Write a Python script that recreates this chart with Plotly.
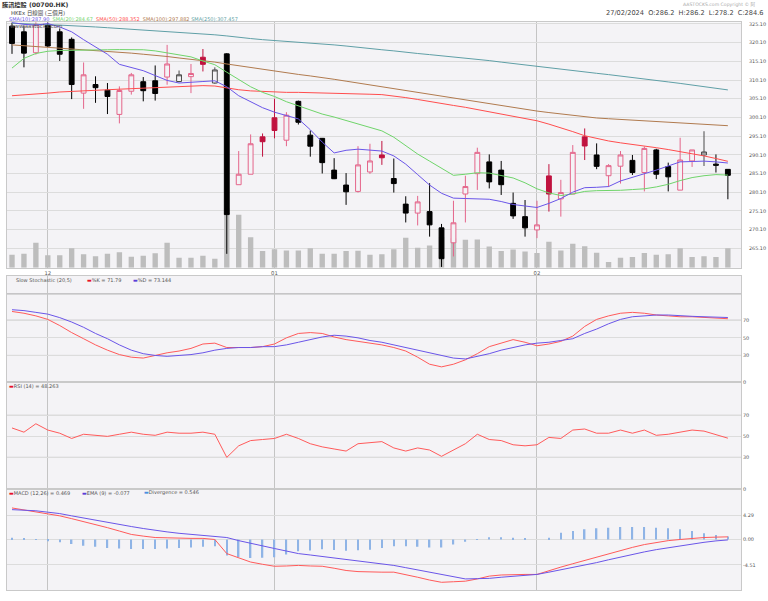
import plotly.graph_objects as go

# ---------------- data ----------------
dates = ["2023-11-28", "2023-11-29", "2023-11-30",
         "2023-12-01", "2023-12-04", "2023-12-05", "2023-12-06", "2023-12-07", "2023-12-08",
         "2023-12-11", "2023-12-12", "2023-12-13", "2023-12-14", "2023-12-15", "2023-12-18",
         "2023-12-19", "2023-12-20", "2023-12-21", "2023-12-22", "2023-12-27", "2023-12-28",
         "2023-12-29",
         "2024-01-02", "2024-01-03", "2024-01-04", "2024-01-05", "2024-01-08", "2024-01-09",
         "2024-01-10", "2024-01-11", "2024-01-12", "2024-01-15", "2024-01-16", "2024-01-17",
         "2024-01-18", "2024-01-19", "2024-01-22", "2024-01-23", "2024-01-24", "2024-01-25",
         "2024-01-26", "2024-01-29", "2024-01-30", "2024-01-31",
         "2024-02-01", "2024-02-02", "2024-02-05", "2024-02-06", "2024-02-07", "2024-02-08",
         "2024-02-09", "2024-02-14", "2024-02-15", "2024-02-16", "2024-02-19", "2024-02-20",
         "2024-02-21", "2024-02-22", "2024-02-23", "2024-02-26", "2024-02-27"]

opens = [324.5, 323.0, 317.4, 324.8, 323.0, 321.0, 306.6, 308.9, 307.4, 300.9,
         307.1, 309.65, 309.9, 310.9, 309.7, 311.0, 316.2, 309.3, 317.1, 282.1,
         284.9, 294.9, 300.0, 294.0, 304.4, 295.35, 294.5, 286.0, 282.0, 280.3,
         285.5, 290.05, 283.75, 276.9, 274.5, 274.9, 270.55, 266.55, 279.6, 285.05,
         288.2, 286.0, 277.1, 273.55, 270.0, 284.45, 278.3, 279.6, 294.9, 290.05,
         284.5, 287.05, 288.6, 285.35, 291.4, 286.95, 280.65, 288.45, 290.05, 287.6,
         286.2]
highs = [325.5, 324.7, 325.6, 325.5, 323.9, 321.5, 314.8, 311.1, 309.3, 308.4,
         312.0, 310.9, 314.0, 319.5, 312.65, 314.4, 318.4, 313.5, 317.3, 291.1,
         295.55, 295.8, 305.1, 301.5, 304.6, 296.6, 294.6, 289.2, 285.2, 292.4,
         293.05, 293.8, 289.1, 279.0, 279.1, 282.5, 271.6, 277.8, 284.5, 292.0,
         290.2, 288.45, 280.0, 278.0, 277.8, 287.6, 283.4, 292.7, 297.15, 293.15,
         287.6, 291.1, 290.05, 292.3, 291.7, 288.0, 294.65, 291.4, 296.4, 290.2,
         286.2]
lows = [317.1, 313.5, 316.9, 318.9, 315.2, 305.0, 302.4, 304.0, 301.0, 298.5,
        306.2, 304.4, 304.6, 308.85, 309.5, 306.6, 312.4, 309.1, 263.6, 282.1,
        284.9, 289.6, 294.5, 292.4, 298.2, 289.6, 285.1, 283.6, 276.7, 280.0,
        285.0, 287.4, 280.0, 272.0, 271.2, 268.2, 260.1, 262.9, 272.0, 280.7,
        281.1, 279.35, 272.95, 268.2, 267.8, 274.9, 273.55, 279.6, 288.7, 286.25,
        281.5, 282.4, 284.7, 280.3, 283.6, 280.3, 280.65, 286.85, 287.1, 285.35,
        278.2]
closes = [319.9, 317.3, 325.0, 319.2, 317.0, 308.9, 311.5, 308.05, 305.7, 307.3,
          311.5, 307.25, 306.5, 314.4, 311.5, 311.85, 314.3, 312.8, 274.1, 284.9,
          293.05, 293.6, 296.6, 300.7, 298.8, 292.4, 288.0, 283.7, 280.2, 287.4,
          288.45, 289.3, 282.4, 274.5, 277.5, 271.35, 262.3, 271.9, 281.6, 290.75,
          282.85, 282.1, 273.75, 270.55, 271.35, 279.6, 280.0, 290.75, 292.45, 287.0,
          287.2, 290.05, 285.35, 291.8, 284.9, 284.2, 288.7, 291.4, 290.85, 287.3,
          284.6]
prev_close_before_first = 325.6

volume_m = [19.8, 21.3, 37.8, 18.8, 18.8, 29.7, 20.3, 17.3, 21.3, 23.3,
            16.8, 18.3, 21.8, 37.8, 15.3, 15.3, 18.3, 13.5, 90.0, 80.3,
            46.2, 25.2, 28.2, 26.3, 26.3, 29.7, 21.3, 21.3, 25.2, 25.8,
            19.8, 20.3, 28.2, 45.3, 30.3, 33.8, 46.5, 44.7, 42.3, 42.8,
            32.3, 25.2, 27.8, 24.8, 22.2, 39.3, 26.3, 36.3, 32.7, 22.8,
            8.7, 15.3, 16.2, 22.2, 19.8, 20.3, 29.7, 16.2, 17.3, 16.2,
            29.7]

sma10 = [325.5, 325.0, 324.8, 325.2, 324.3, 323.0, 320.9, 318.9, 317.0, 314.3,
         313.5, 312.6, 311.3, 310.0, 309.3, 309.4, 309.7, 309.9, 308.3, 305.9,
         304.2, 302.7, 301.5, 300.6, 299.7, 296.8, 293.5, 290.6, 291.3, 291.6,
         291.4, 291.1, 289.8, 287.6, 284.8, 282.0, 279.8, 278.5, 278.4, 278.3,
         278.2, 277.6, 276.8, 276.4, 276.0, 277.1, 278.4, 280.1, 281.3, 281.4,
         281.6, 283.1, 284.0, 285.0, 286.0, 287.1, 288.2, 288.3, 288.4, 288.2,
         287.9]
sma20 = [313.3, 315.9, 317.2, 317.8, 318.0, 318.1, 318.15, 318.2, 318.2, 318.25,
         318.3, 318.2, 317.9, 317.4, 316.8, 316.3, 315.2, 314.2, 312.2, 310.3,
         308.3, 306.8, 305.7, 304.3, 303.2, 302.1, 301.0, 300.2, 299.3, 298.5,
         297.6, 296.5, 294.8, 292.6, 290.3, 288.4, 286.5, 284.6, 284.9, 285.3,
         285.2, 284.6, 283.9, 282.6, 281.0, 279.9, 279.2, 279.6, 280.3, 280.5,
         280.5, 280.6, 280.8, 281.0, 281.5, 282.2, 283.2, 284.0, 284.5, 284.8,
         284.67]
sma50 = [305.9, 306.1, 306.4, 306.6, 306.9, 307.1, 307.2, 307.35, 307.5, 307.65,
         307.8, 307.95, 308.1, 308.25, 308.4, 308.5, 308.6, 308.5, 307.9, 307.5,
         307.2, 307.0, 306.9, 306.8, 306.8, 306.75, 306.7, 306.6, 306.5, 306.4,
         306.3, 306.2, 305.9, 305.4, 304.9, 304.3, 303.8, 303.3, 302.8, 302.2,
         301.8, 301.2, 300.5, 299.8, 299.2, 298.3, 297.4, 296.3, 295.2, 294.4,
         293.8, 293.3, 292.8, 292.4, 292.0, 291.5, 291.0, 290.4, 289.8, 289.1,
         288.352]
sma100 = [319.5, 319.3, 319.1, 318.9, 318.7, 318.5, 318.3, 318.0, 317.8, 317.6,
          317.3, 317.0, 316.8, 316.4, 316.0, 315.7, 315.3, 314.9, 314.4, 313.9,
          313.4, 312.9, 312.4, 312.0, 311.6, 311.2, 310.8, 310.3, 309.8, 309.3,
          308.8, 308.3, 307.8, 307.3, 306.8, 306.3, 305.8, 305.2, 304.7, 304.2,
          303.7, 303.2, 302.8, 302.3, 301.8, 301.4, 301.0, 300.6, 300.2, 299.95,
          299.75, 299.55, 299.35, 299.15, 298.95, 298.75, 298.55, 298.35, 298.15, 298.0,
          297.882]
sma250 = [325.3, 325.1, 325.0, 324.9, 324.8, 324.7, 324.5, 324.3, 324.1, 323.9,
          323.8, 323.6, 323.4, 323.2, 323.0, 322.7, 322.5, 322.2, 321.9, 321.5,
          321.2, 320.9, 320.7, 320.5, 320.3, 320.1, 319.8, 319.5, 319.2, 318.8,
          318.5, 318.2, 317.9, 317.5, 317.2, 316.9, 316.6, 316.3, 315.9, 315.6,
          315.3, 314.9, 314.5, 314.1, 313.8, 313.4, 313.0, 312.7, 312.3, 311.9,
          311.55, 311.2, 310.8, 310.4, 310.0, 309.6, 309.2, 308.8, 308.4, 308.0,
          307.457]

stoch_k = [80, 78, 75, 71, 64, 56, 49, 42, 36, 31, 28, 27, 30, 33, 35, 38, 43, 44, 39, 39,
           39, 40, 43, 50, 55, 56, 55, 51, 48, 46, 44, 42, 39, 35, 28, 20, 17, 20, 25, 32,
           40, 44, 48, 45, 41, 43, 46, 52, 63, 71, 75, 78, 79, 78, 76, 75, 74, 74, 73, 72.5,
           71.79]
stoch_d = [82, 81, 79, 77, 73, 68, 62, 55, 49, 42, 36, 32, 30, 29, 30, 31, 33, 36, 38, 39,
           39, 40, 40, 42, 45, 48, 51, 53, 52, 50, 47, 45, 42, 39, 36, 33, 30, 27, 26, 29,
           32, 36, 39, 42, 44, 45, 47, 49, 55, 60, 66, 71, 74, 75, 76, 76, 75, 74.5, 74, 73.5,
           73.144]
rsi14 = [58, 54, 62, 56, 53, 48, 52, 51, 50, 52, 54, 52, 51, 54, 53, 53, 54, 52, 30, 41,
         46, 47, 48, 52, 48, 43, 40, 38, 36, 43, 44, 45, 39, 36, 39, 37, 31, 37, 43, 52,
         47, 46, 42, 41, 42, 49, 48, 56, 57, 53, 53, 56, 53, 56, 51, 52, 54, 56, 55, 52,
         48.263]
macd = [5.6, 5.25, 4.9, 4.55, 4.2, 3.7, 3.2, 2.65, 2.1, 1.5, 0.9, 0.6, 0.35, 0.3, 0.2, 0.2,
        0.2, 0.0, -2.5, -3.3, -4.0, -4.4, -4.75, -4.7, -4.6, -4.7, -4.75, -5.1, -5.5, -5.7,
        -5.8, -5.8, -5.8, -6.2, -6.7, -7.2, -7.6, -7.5, -7.4, -7.0, -6.5, -6.3, -6.2, -6.2,
        -6.2, -5.5, -4.9, -4.3, -3.7, -3.1, -2.5, -1.9, -1.4, -0.9, -0.5, -0.2, 0.0, 0.2,
        0.35, 0.42, 0.469]
ema9 = [5.3, 5.2, 5.1, 4.85, 4.6, 4.2, 3.8, 3.4, 3.0, 2.65, 2.3, 1.95, 1.6, 1.35, 1.1, 0.9,
        0.7, 0.55, 0.35, -0.2, -0.7, -1.15, -1.6, -2.05, -2.5, -2.75, -3.0, -3.25, -3.5, -3.8,
        -4.0, -4.3, -4.6, -5.0, -5.4, -5.8, -6.2, -6.6, -7.0, -6.95, -6.9, -6.7, -6.5, -6.35,
        -6.2, -5.8, -5.4, -5.0, -4.6, -4.1, -3.6, -3.1, -2.6, -2.2, -1.8, -1.45, -1.1, -0.8,
        -0.5, -0.25, -0.077]
divergence = [0.3, 0.2, 0.1, -0.3, -0.5, -0.8, -1.1, -1.3, -1.5, -1.6, -1.7, -1.7, -1.7,
              -1.6, -1.5, -1.4, -1.3, -1.2, -2.85, -3.1, -3.3, -3.25, -3.15, -2.65, -2.1,
              -1.95, -1.75, -1.85, -2.0, -1.9, -1.8, -1.5, -1.2, -1.2, -1.3, -1.4, -1.4, -0.9,
              -0.4, -0.05, 0.4, 0.4, 0.3, 0.15, 0.0, 0.3, 1.2, 1.5, 1.8, 2.0, 2.1, 2.2, 2.2,
              2.2, 2.1, 2.0, 1.8, 1.5, 1.1, 0.8, 0.546]

month_tick_idx = [3, 22, 44]
month_tick_text = ["12", "01", "02"]
price_ticks = [265.10, 270.10, 275.10, 280.10, 285.10, 290.10, 295.10, 300.10,
               305.10, 310.10, 315.10, 320.10, 325.10]
osc_ticks = [0, 30, 50, 70]
macd_ticks = [-4.51, 0.00, 4.29]

# ---------------- styling helpers ----------------
W, H = 768, 601
def px_x(x):
    return x / W
def px_y(y):
    return 1 - y / H

XL, XR = px_x(7), px_x(741)
MAIN = [px_y(268), px_y(20.5)]
STO = [px_y(383), px_y(276)]
RSI_D = [px_y(491), px_y(383)]
MACD_D = [px_y(593.3), px_y(491)]

BG = "#f4f3f6"
GRID = "#dcdcdc"
BORDER = "#c9c9c9"
TXT = "#555555"
FONT = "DejaVu Sans"

PINK = "#e4658a"
CRIMSON = "#c0123f"
BLACK = "#000000"
DARK = "#4a4a4a"

C_SMA10 = "#6a55e8"
C_SMA20 = "#6fd46a"
C_SMA50 = "#ff4d4d"
C_SMA100 = "#b07a4e"
C_SMA250 = "#5f9fa6"

# ---------------- figure ----------------
fig = go.Figure()

# volume (base axis, drawn underneath)
fig.add_trace(go.Bar(x=dates, y=volume_m, marker=dict(color="#bdbdbd", line=dict(width=0)),
                     width=0.45, xaxis="x", yaxis="y", showlegend=False, hoverinfo="skip"))

# split candles by change versus previous close
prev = [prev_close_before_first] + closes[:-1]
grp_up = [i for i in range(len(dates)) if closes[i] > prev[i]]
grp_dn = [i for i in range(len(dates)) if closes[i] <= prev[i]]

def sub(lst, idx):
    return [lst[i] for i in idx]

fig.add_trace(go.Candlestick(
    x=sub(dates, grp_up), open=sub(opens, grp_up), high=sub(highs, grp_up),
    low=sub(lows, grp_up), close=sub(closes, grp_up),
    increasing=dict(line=dict(color=PINK, width=1), fillcolor=BG),
    decreasing=dict(line=dict(color=CRIMSON, width=1), fillcolor=CRIMSON),
    xaxis="x", yaxis="y2", showlegend=False, hoverinfo="skip"))
fig.add_trace(go.Candlestick(
    x=sub(dates, grp_dn), open=sub(opens, grp_dn), high=sub(highs, grp_dn),
    low=sub(lows, grp_dn), close=sub(closes, grp_dn),
    increasing=dict(line=dict(color=DARK, width=1), fillcolor=BG),
    decreasing=dict(line=dict(color=BLACK, width=1), fillcolor=BLACK),
    xaxis="x", yaxis="y2", showlegend=False, hoverinfo="skip"))

for series, col in [(sma250, C_SMA250), (sma100, C_SMA100), (sma50, C_SMA50),
                    (sma20, C_SMA20), (sma10, C_SMA10)]:
    fig.add_trace(go.Scatter(x=dates, y=series, mode="lines", line=dict(color=col, width=1),
                             xaxis="x", yaxis="y2", showlegend=False, hoverinfo="skip"))

# stochastic
fig.add_trace(go.Scatter(x=dates, y=stoch_k, mode="lines", line=dict(color="#ff5a5a", width=1),
                         xaxis="x2", yaxis="y3", showlegend=False, hoverinfo="skip"))
fig.add_trace(go.Scatter(x=dates, y=stoch_d, mode="lines", line=dict(color="#6a55e8", width=1),
                         xaxis="x2", yaxis="y3", showlegend=False, hoverinfo="skip"))
# rsi
fig.add_trace(go.Scatter(x=dates, y=rsi14, mode="lines", line=dict(color="#ff5a5a", width=1),
                         xaxis="x3", yaxis="y4", showlegend=False, hoverinfo="skip"))
# macd
fig.add_trace(go.Bar(x=dates, y=divergence, marker=dict(color="#8fb4e6", line=dict(width=0)),
                     width=0.12, xaxis="x4", yaxis="y5", showlegend=False, hoverinfo="skip"))
fig.add_trace(go.Scatter(x=dates, y=macd, mode="lines", line=dict(color="#ff5a5a", width=1),
                         xaxis="x4", yaxis="y5", showlegend=False, hoverinfo="skip"))
fig.add_trace(go.Scatter(x=dates, y=ema9, mode="lines", line=dict(color="#6a55e8", width=1),
                         xaxis="x4", yaxis="y5", showlegend=False, hoverinfo="skip"))

tickvals_x = [dates[i] for i in month_tick_idx]
xcommon = dict(domain=[XL, XR], type="category", range=[-0.42, 61.1],
               tickvals=tickvals_x, ticktext=month_tick_text, showgrid=True,
               gridcolor="#c4c4c4", gridwidth=1, showline=True, mirror=True,
               linecolor=BORDER, linewidth=1, ticks="", zeroline=False,
               rangeslider=dict(visible=False))

ycommon = dict(showline=True, mirror=True, linecolor=BORDER, linewidth=1, side="right",
               ticks="", zeroline=False, tickfont=dict(size=4.9, color=TXT, family=FONT),
               gridcolor=GRID, gridwidth=1)

fig.update_layout(
    width=W, height=H, margin=dict(l=0, r=0, t=0, b=0),
    paper_bgcolor="white", plot_bgcolor=BG, showlegend=False,
    boxgap=0.42, bargap=0.5, barmode="overlay",
    font=dict(family=FONT, size=6, color=TXT),
    xaxis=dict(**xcommon, anchor="y", showticklabels=True,
               tickfont=dict(size=5.3, color=TXT, family=FONT)),
    xaxis2=dict(**xcommon, anchor="y3", matches="x", showticklabels=False),
    xaxis3=dict(**xcommon, anchor="y4", matches="x", showticklabels=False),
    xaxis4=dict(**xcommon, anchor="y5", matches="x", showticklabels=False),
    yaxis=dict(domain=MAIN, range=[0, 371.25], visible=False, fixedrange=True),
    yaxis2=dict(**ycommon, overlaying="y", anchor="x", range=[259.87, 325.54],
                tickvals=price_ticks, ticktext=["%.2f" % v for v in price_ticks],
                ticklabelstandoff=6),
    yaxis3=dict(**ycommon, domain=STO, anchor="x2", range=[0, 120.7],
                tickvals=osc_ticks, ticktext=[str(v) for v in osc_ticks]),
    yaxis4=dict(**ycommon, domain=RSI_D, anchor="x3", range=[0, 101.9],
                tickvals=osc_ticks, ticktext=[str(v) for v in osc_ticks]),
    yaxis5=dict(**ycommon, domain=MACD_D, anchor="x4", range=[-9.03, 8.98],
                tickvals=macd_ticks, ticktext=["%.2f" % v for v in macd_ticks]),
)

# darker reference lines in oscillator panels
shapes = []
for yref, levels in [("y3", [100]), ("y3", [30, 70]), ("y4", [30, 70])]:
    for lv in levels:
        shapes.append(dict(type="line", xref="paper", x0=XL, x1=XR, yref=yref, y0=lv, y1=lv,
                           line=dict(color="#a9a9a9", width=1), layer="below"))
fig.update_layout(shapes=shapes)

# ---------------- texts ----------------
def ann(x, y, text, size=6, color=TXT, anchor="left", bold=False, family=FONT):
    t = "<b>%s</b>" % text if bold else text
    fig.add_annotation(x=px_x(x), y=px_y(y), xref="paper", yref="paper", text=t,
                       showarrow=False, xanchor=anchor, yanchor="middle", borderpad=0,
                       font=dict(size=size, color=color, family=family))

MIX = "DejaVu Sans, Noto Sans CJK TC"
ann(1, 3.0, "騰訊控股 (00700.HK)", size=6.2, color="#333333", bold=True, family=MIX)
ann(10, 10.8, "HKEx 日線圖 (三個月)", size=5.4, color="#444444", family=MIX)
sma_text = ("<span style='color:%s'>SMA(10):287.90</span>  "
            "<span style='color:%s'>SMA(20):284.67</span>  "
            "<span style='color:%s'>SMA(50):288.352</span>  "
            "<span style='color:%s'>SMA(100):297.882</span> "
            "<span style='color:%s'>SMA(250):307.457</span>") % (
    C_SMA10, C_SMA20, C_SMA50, C_SMA100, C_SMA250)
ann(8, 17.3, sma_text, size=5.0)
ann(9, 24.0, "www.aastocks.com", size=5.5, color="#555555")
ann(757, 2.5, "AASTOCKS.com Copyright © 阿", size=4.6, color="#aaaaaa", anchor="right", family=MIX)
ann(764, 10.6, "27/02/2024  O:286.2  H:286.2  L:278.2  C:284.6", size=6.6, color="#444444",
    anchor="right")

ann(15, 280, "Slow Stochastic (20,5)", size=5)
ann(86, 280, "<span style='color:#e8102a'>▬</span>%K = 71.79", size=5)
ann(132, 280, "<span style='color:#5a3fd8'>▬</span>%D = 73.144", size=5)
ann(8, 387, "<span style='color:#e8102a'>▬</span>RSI (14) = 48.263", size=5)
ann(8, 495, "<span style='color:#e8102a'>▬</span>MACD (12,26) = 0.469", size=5)
ann(81, 495, "<span style='color:#5a3fd8'>▬</span>EMA (9) = -0.077", size=5)
ann(143, 495, "<span style='color:#4a8fe0'>▬</span>Divergence = 0.546", size=5)

fig.write_html("out.html")
